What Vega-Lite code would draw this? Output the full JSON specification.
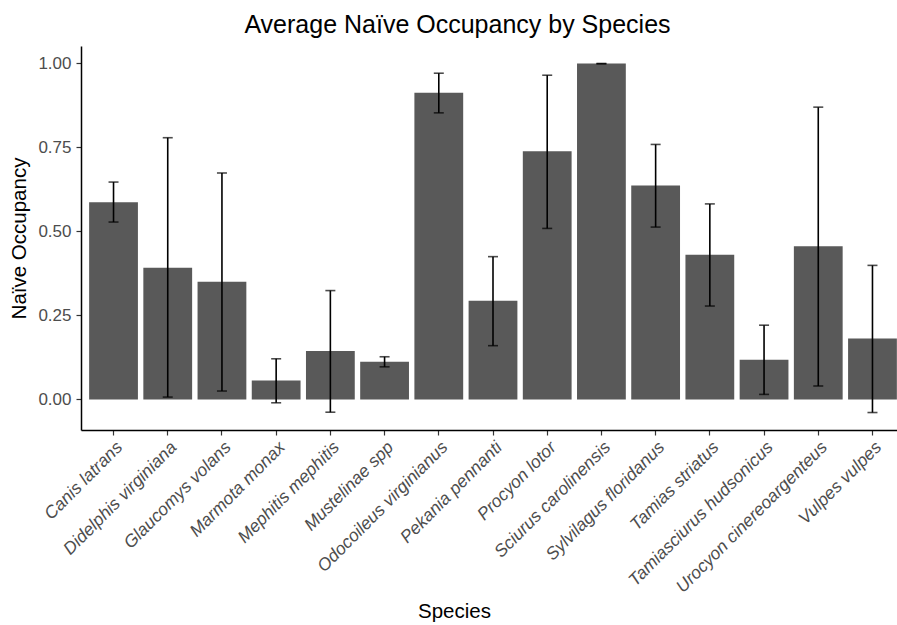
{
  "$schema": "https://vega.github.io/schema/vega-lite/v6.json",
  "autosize": "none",
  "width": 816,
  "height": 384,
  "padding": {"left": 81, "top": 46, "right": 0, "bottom": 195},
  "background": "white",
  "title": {
    "text": "Average Naïve Occupancy by Species",
    "font": "Liberation Sans",
    "fontSize": 25,
    "fontWeight": "normal",
    "color": "black",
    "anchor": "middle",
    "frame": "bounds",
    "offset": 8
  },
  "config": {
    "view": {"stroke": null},
    "font": "Liberation Sans"
  },
  "data": {
    "values": [
      {"species": "Canis latrans", "mean": 0.587, "lo": 0.528, "hi": 0.647},
      {"species": "Didelphis virginiana", "mean": 0.392, "lo": 0.007, "hi": 0.779},
      {"species": "Glaucomys volans", "mean": 0.350, "lo": 0.025, "hi": 0.674},
      {"species": "Marmota monax", "mean": 0.056, "lo": -0.010, "hi": 0.121},
      {"species": "Mephitis mephitis", "mean": 0.144, "lo": -0.038, "hi": 0.324},
      {"species": "Mustelinae spp", "mean": 0.112, "lo": 0.097, "hi": 0.127},
      {"species": "Odocoileus virginianus", "mean": 0.913, "lo": 0.853, "hi": 0.971},
      {"species": "Pekania pennanti", "mean": 0.294, "lo": 0.160, "hi": 0.425},
      {"species": "Procyon lotor", "mean": 0.739, "lo": 0.509, "hi": 0.965},
      {"species": "Sciurus carolinensis", "mean": 1.0, "lo": 0.999, "hi": 1.0},
      {"species": "Sylvilagus floridanus", "mean": 0.637, "lo": 0.513, "hi": 0.759},
      {"species": "Tamias striatus", "mean": 0.431, "lo": 0.278, "hi": 0.582},
      {"species": "Tamiasciurus hudsonicus", "mean": 0.118, "lo": 0.015, "hi": 0.221},
      {"species": "Urocyon cinereoargenteus", "mean": 0.456, "lo": 0.040, "hi": 0.870},
      {"species": "Vulpes vulpes", "mean": 0.181, "lo": -0.039, "hi": 0.399}
    ]
  },
  "encoding": {
    "x": {
      "field": "species",
      "type": "nominal",
      "sort": null,
      "scale": {"paddingInner": 0.1, "paddingOuter": 0.15, "range": [0, 824]},
      "axis": {
        "title": "Species",
        "titleFont": "Liberation Sans",
        "titleFontSize": 20.5,
        "titleFontWeight": "normal",
        "titleColor": "black",
        "titleX": 373,
        "titleY": 187,
        "titleBaseline": "alphabetic",
        "labelAngle": -45,
        "labelAlign": "right",
        "labelBaseline": "top",
        "labelFontSize": 17.5,
        "labelFontStyle": "italic",
        "labelColor": "#4D4D4D",
        "labelPadding": 3,
        "labelLimit": 0,
        "labelOverlap": false,
        "domainColor": "black",
        "domainWidth": 1.5,
        "tickColor": "#333333",
        "tickSize": 5,
        "tickWidth": 1.2,
        "grid": false
      }
    }
  },
  "layer": [
    {
      "mark": {"type": "bar", "color": "#595959"},
      "encoding": {
        "y": {
          "field": "mean",
          "type": "quantitative",
          "scale": {"domain": [-0.091, 1.052], "nice": false, "zero": false},
          "axis": {
            "title": "Naïve Occupancy",
            "titleFont": "Liberation Sans",
            "titleFontSize": 20.5,
            "titleFontWeight": "normal",
            "titleColor": "black",
            "titlePadding": 8,
            "values": [0, 0.25, 0.5, 0.75, 1],
            "format": ".2f",
            "labelFontSize": 17,
            "labelColor": "#4D4D4D",
            "labelPadding": 5,
            "domainColor": "black",
            "domainWidth": 1.5,
            "tickColor": "#333333",
            "tickSize": 5,
            "tickWidth": 1.2,
            "grid": false
          }
        },
        "y2": {"datum": 0}
      }
    },
    {
      "mark": {"type": "rule", "color": "black", "strokeWidth": 1.6},
      "encoding": {
        "y": {"field": "lo", "type": "quantitative"},
        "y2": {"field": "hi"}
      }
    },
    {
      "mark": {"type": "tick", "color": "black", "size": 10, "thickness": 1.6, "orient": "horizontal"},
      "encoding": {
        "y": {"field": "lo", "type": "quantitative"}
      }
    },
    {
      "mark": {"type": "tick", "color": "black", "size": 10, "thickness": 1.6, "orient": "horizontal"},
      "encoding": {
        "y": {"field": "hi", "type": "quantitative"}
      }
    }
  ]
}
